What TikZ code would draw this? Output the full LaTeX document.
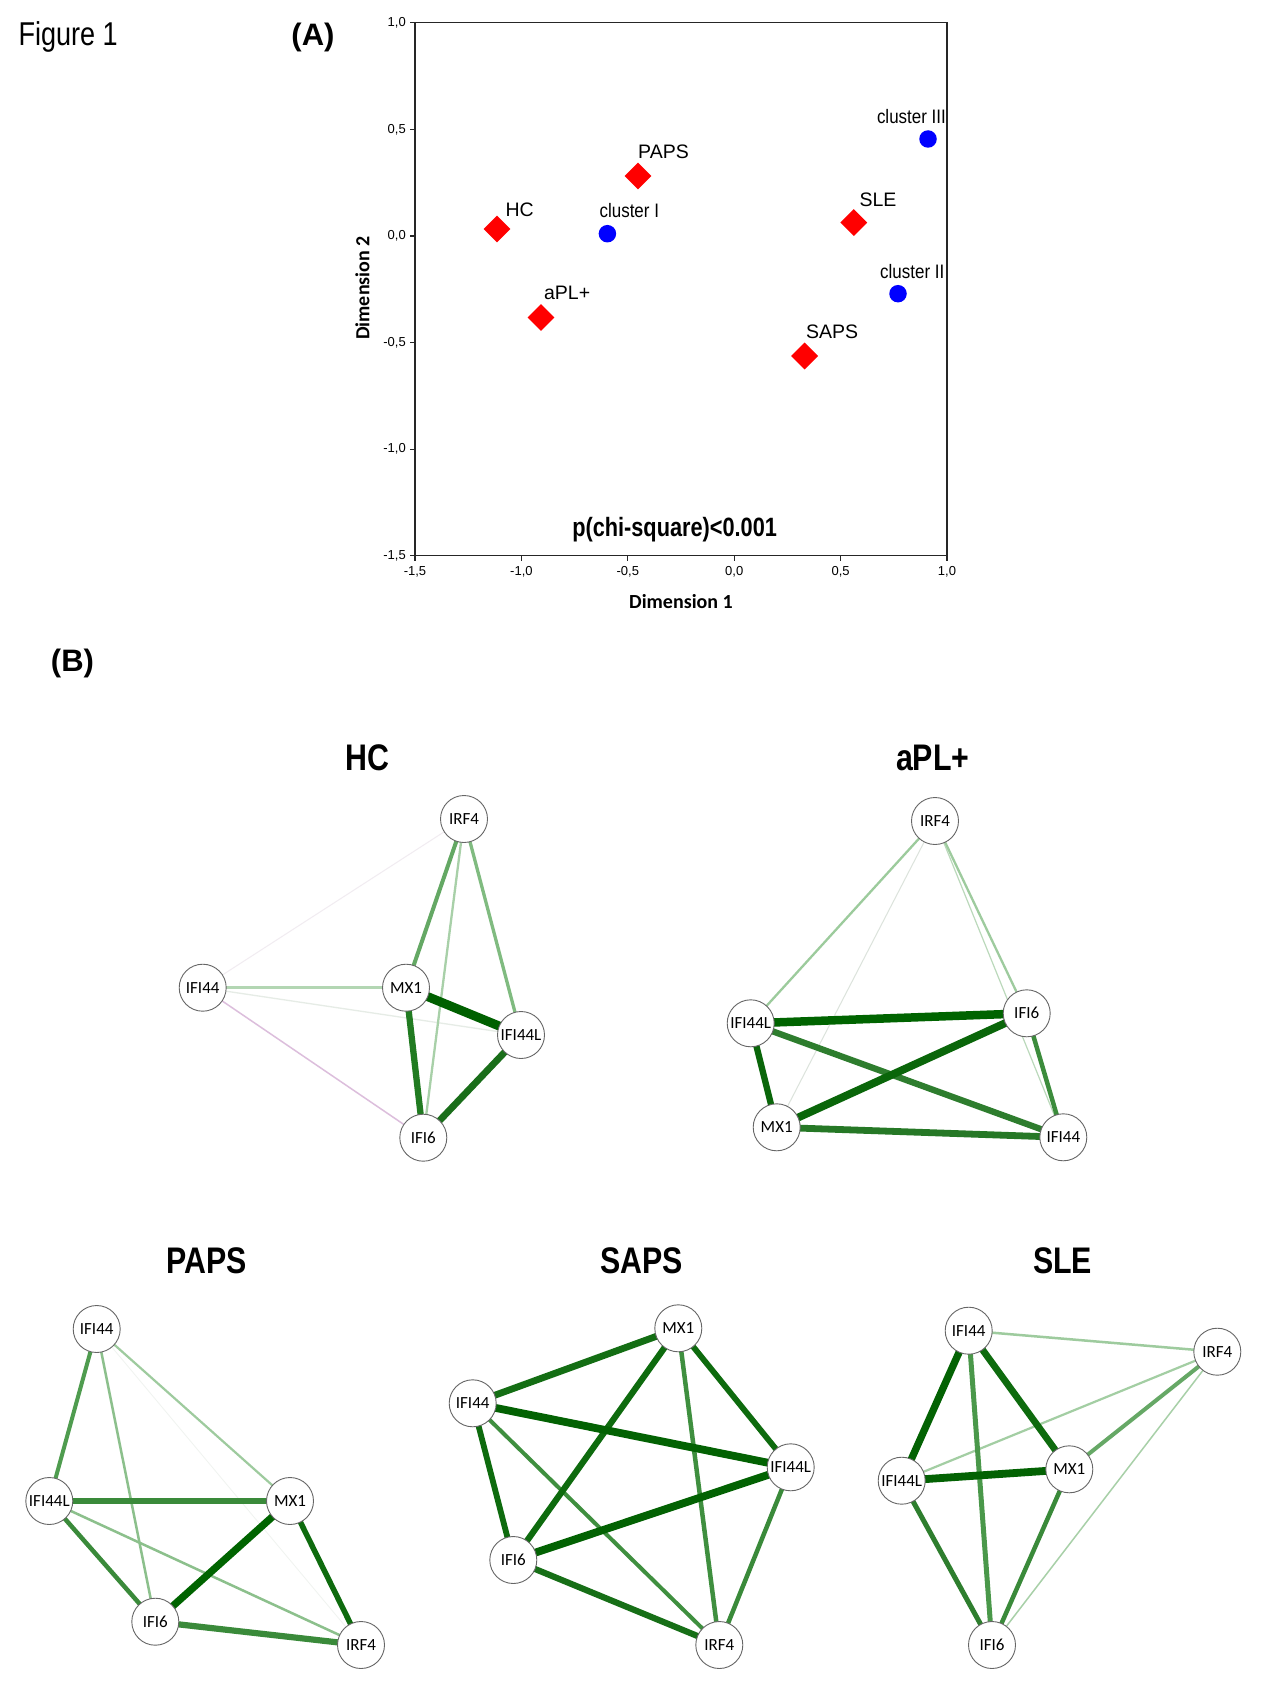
\documentclass[tikz,border=0pt]{standalone}
\usepackage{fontspec}
\setmainfont{Liberation Sans}
\newfontfamily\nsf[FakeStretch=0.82]{Liberation Sans}
\newfontfamily\csf[FakeStretch=0.87]{Liberation Sans}
\newfontfamily\carlito{Carlito}
\usetikzlibrary{shapes.geometric}
\pgfdeclarelayer{bg}
\pgfsetlayers{bg,main}
\newcommand\fs[1]{\fontsize{#1}{#1}\selectfont}
\newcommand\E[4]{\definecolor{ec}{HTML}{#4}\draw[line width=#3, draw=ec] (#1) -- (#2);}
\tikzset{
  gene/.style={circle, draw=black!60, line width=0.9pt, fill=white, minimum size=47pt, inner sep=0pt, font=\carlito\fs{17}},
  diam/.style={diamond, fill=red, minimum size=27pt, inner sep=0pt},
  dot/.style={circle, fill=blue, minimum size=17.5pt, inner sep=0pt},
  plab/.style={anchor=base west, inner sep=0pt, font=\fs{19.5}},
  clab/.style={anchor=base west, inner sep=0pt, font=\csf\fs{19.5}},
  tick/.style={inner sep=0pt, font=\fs{13}},
  ttl/.style={anchor=base, inner sep=0pt, font=\nsf\bfseries\fs{37}},
}
\begin{document}
\begin{tikzpicture}[x=1pt,y=-1pt]
\useasboundingbox (0,0) rectangle (1280,1707);
\begin{pgfonlayer}{bg}
\fill[white] (0,0) rectangle (1280,1707);
\end{pgfonlayer}

% headings
\node[anchor=base west, inner sep=0pt, font=\nsf\fs{33}] (fig) at (18.3,45.7) {Figure 1};
\node[anchor=base, inner sep=0pt, font=\bfseries\fs{31}] (lA) at (313,45.7) {(A)};
\node[anchor=base, inner sep=0pt, font=\bfseries\fs{31}] (lB) at (72.5,671.7) {(B)};

% ---------------- plot (A) ----------------
\draw[black!85, line width=1.3pt] (415,22.8) rectangle (947,555.8);
\foreach \yy/\lab [count=\i] in {22.8/{1,0},129.4/{0,5},236/{0,0},342.6/{-0,5},449.2/{-1,0},555.8/{-1,5}}{
  \draw[black!85, line width=1.2pt] (415,\yy) -- (410,\yy);
  \node[tick, anchor=east] (yt\i) at (406,\yy) {\lab};
}
\foreach \xx/\lab [count=\i] in {415/{-1,5},521.4/{-1,0},627.8/{-0,5},734.2/{0,0},840.6/{0,5},947/{1,0}}{
  \draw[black!85, line width=1.2pt] (\xx,555.8) -- (\xx,561);
  \node[tick, anchor=north] (xt\i) at (\xx,566) {\lab};
}
\node[inner sep=0pt, font=\carlito\bfseries\fs{20}, rotate=90] (d2) at (362.5,288) {Dimension 2};
\node[anchor=base, inner sep=0pt, font=\carlito\bfseries\fs{20}] (d1) at (681,608) {Dimension 1};
\node[anchor=base, inner sep=0pt, font=\nsf\bfseries\fs{26.5}] (chi) at (674.6,536.5) {p(chi-square)<0.001};

\node[diam] (mHC) at (497,229) {};
\node[diam] (mPAPS) at (638,176) {};
\node[diam] (maPL) at (541,317.5) {};
\node[diam] (mSLE) at (853.8,222.6) {};
\node[diam] (mSAPS) at (804.6,356) {};
\node[dot] (cI) at (607.4,233.7) {};
\node[dot] (cII) at (898,293.7) {};
\node[dot] (cIII) at (928,139) {};
\begin{scope}
\clip (415,22.8) rectangle (946.5,555.8);
\node[plab] (tHC) at (505.4,216.3) {HC};
\node[clab] (tcI) at (599.4,217.9) {cluster I};
\node[plab] (tPAPS) at (638,158.7) {PAPS};
\node[plab] (taPL) at (543.9,299.6) {aPL+};
\node[plab] (tSLE) at (859.4,206.3) {SLE};
\node[plab] (tSAPS) at (805.8,338.1) {SAPS};
\node[clab] (tcII) at (880,278.6) {cluster II};
\node[clab] (tcIII) at (876.8,123.4) {cluster III};
\end{scope}

% ---------------- networks (B) ----------------
\node[ttl] (ttHC) at (367.3,770) {HC};
\node[ttl] (ttaPL) at (932.7,770) {aPL+};
\node[ttl] (ttPAPS) at (206.7,1273.5) {PAPS};
\node[ttl] (ttSAPS) at (641.7,1273.5) {SAPS};
\node[ttl] (ttSLE) at (1062.7,1273.5) {SLE};

% HC
\node[gene] (hIRF4) at (464,819) {IRF4};
\node[gene] (hIFI44) at (202.7,987.7) {IFI44};
\node[gene] (hMX1) at (406,987.7) {MX1};
\node[gene] (hIFI44L) at (521,1035) {IFI44L};
\node[gene] (hIFI6) at (423.3,1137.7) {IFI6};
% aPL+
\node[gene] (aIRF4) at (935,821) {IRF4};
\node[gene] (aIFI44L) at (750.7,1023.3) {IFI44L};
\node[gene] (aIFI6) at (1026.7,1013.3) {IFI6};
\node[gene] (aMX1) at (776.7,1127.3) {MX1};
\node[gene] (aIFI44) at (1063.3,1137.3) {IFI44};
% PAPS
\node[gene] (pIFI44) at (96.7,1329) {IFI44};
\node[gene] (pIFI44L) at (49.3,1501) {IFI44L};
\node[gene] (pMX1) at (290,1501) {MX1};
\node[gene] (pIFI6) at (155.3,1621.7) {IFI6};
\node[gene] (pIRF4) at (361,1645) {IRF4};
% SAPS
\node[gene] (sMX1) at (678.3,1328.3) {MX1};
\node[gene] (sIFI44) at (472.7,1403.3) {IFI44};
\node[gene] (sIFI44L) at (790.7,1467.3) {IFI44L};
\node[gene] (sIFI6) at (513.3,1560) {IFI6};
\node[gene] (sIRF4) at (719.3,1645) {IRF4};
% SLE
\node[gene] (lIFI44) at (968.7,1330.7) {IFI44};
\node[gene] (lIRF4) at (1217.3,1351.7) {IRF4};
\node[gene] (lIFI44L) at (901.7,1480.7) {IFI44L};
\node[gene] (lMX1) at (1069.3,1469.3) {MX1};
\node[gene] (lIFI6) at (992,1645) {IFI6};

\begin{pgfonlayer}{bg}
% HC edges
\E{hIRF4.center}{hIFI44.center}{1}{F1ECF1}
\E{hIFI44.center}{hIFI44L.center}{1.3}{E6ECE6}
\E{hIFI44.center}{hIFI6.center}{1.5}{DCBEDC}
\E{hIFI44.center}{hMX1.center}{2.5}{B3D6B3}
\E{hIRF4.center}{hIFI6.center}{2.3}{A8D0A8}
\E{hIRF4.center}{hIFI44L.center}{3.3}{80BB80}
\E{hIRF4.center}{hMX1.center}{4}{64A864}
\E{hMX1.center}{hIFI6.center}{6.3}{217B21}
\E{hIFI44L.center}{hIFI6.center}{6.8}{1A6E1A}
\E{hMX1.center}{hIFI44L.center}{9}{006000}
% aPL+ edges
\E{aIRF4.center}{aMX1.center}{1}{DCE3DC}
\E{aIRF4.center}{aIFI44.center}{1.2}{BBD9BB}
\E{aIRF4.center}{aIFI44L.center}{2.3}{9CCB9C}
\E{aIRF4.center}{aIFI6.center}{2.3}{9ECB9E}
\E{aIFI6.center}{aIFI44.center}{4.5}{3C8C3C}
\E{aIFI44L.center}{aIFI44.center}{6.3}{2E7D2E}
\E{aMX1.center}{aIFI44.center}{6.8}{267826}
\E{aIFI44L.center}{aMX1.center}{6.3}{0A660A}
\E{aMX1.center}{aIFI6.center}{7.8}{0A660A}
\E{aIFI44L.center}{aIFI6.center}{8.5}{006400}
% PAPS edges
\E{pIFI44.center}{pIRF4.center}{0.8}{F0F3F0}
\E{pIFI44.center}{pMX1.center}{2.2}{9ECB9E}
\E{pIFI44.center}{pIFI6.center}{2.5}{8CC08C}
\E{pIFI44L.center}{pIRF4.center}{2.5}{8CC08C}
\E{pIFI44.center}{pIFI44L.center}{4}{4F9C4F}
\E{pIFI44L.center}{pIFI6.center}{4.5}{3A8A3A}
\E{pIFI44L.center}{pMX1.center}{5.2}{3A8A3A}
\E{pIFI6.center}{pIRF4.center}{6.2}{3A8A3A}
\E{pMX1.center}{pIRF4.center}{5.5}{0E6B0E}
\E{pMX1.center}{pIFI6.center}{7.3}{006400}
% SAPS edges
\E{sIFI44.center}{sIRF4.center}{4}{3F8F3F}
\E{sMX1.center}{sIRF4.center}{4.5}{3F8F3F}
\E{sIFI44L.center}{sIRF4.center}{4.5}{3A8A3A}
\E{sMX1.center}{sIFI44.center}{6.8}{146E14}
\E{sMX1.center}{sIFI6.center}{6.2}{0E6B0E}
\E{sMX1.center}{sIFI44L.center}{5.8}{0E6B0E}
\E{sIFI44.center}{sIFI6.center}{5.8}{0E6B0E}
\E{sIFI6.center}{sIRF4.center}{6.2}{176F17}
\E{sIFI44.center}{sIFI44L.center}{7.8}{036203}
\E{sIFI44L.center}{sIFI6.center}{7.8}{036203}
% SLE edges
\E{lIRF4.center}{lIFI6.center}{1.5}{A8D0A8}
\E{lIRF4.center}{lIFI44L.center}{2.2}{A3CEA3}
\E{lIFI44.center}{lIRF4.center}{2.5}{9ECB9E}
\E{lIRF4.center}{lMX1.center}{4}{66A866}
\E{lIFI44.center}{lIFI6.center}{5}{4A984A}
\E{lMX1.center}{lIFI6.center}{4.5}{3A8A3A}
\E{lIFI44L.center}{lIFI6.center}{5}{2E7E2E}
\E{lIFI44.center}{lMX1.center}{6.8}{0E6B0E}
\E{lIFI44.center}{lIFI44L.center}{7.3}{036203}
\E{lIFI44L.center}{lMX1.center}{7.8}{036203}
\end{pgfonlayer}
\end{tikzpicture}
\end{document}
